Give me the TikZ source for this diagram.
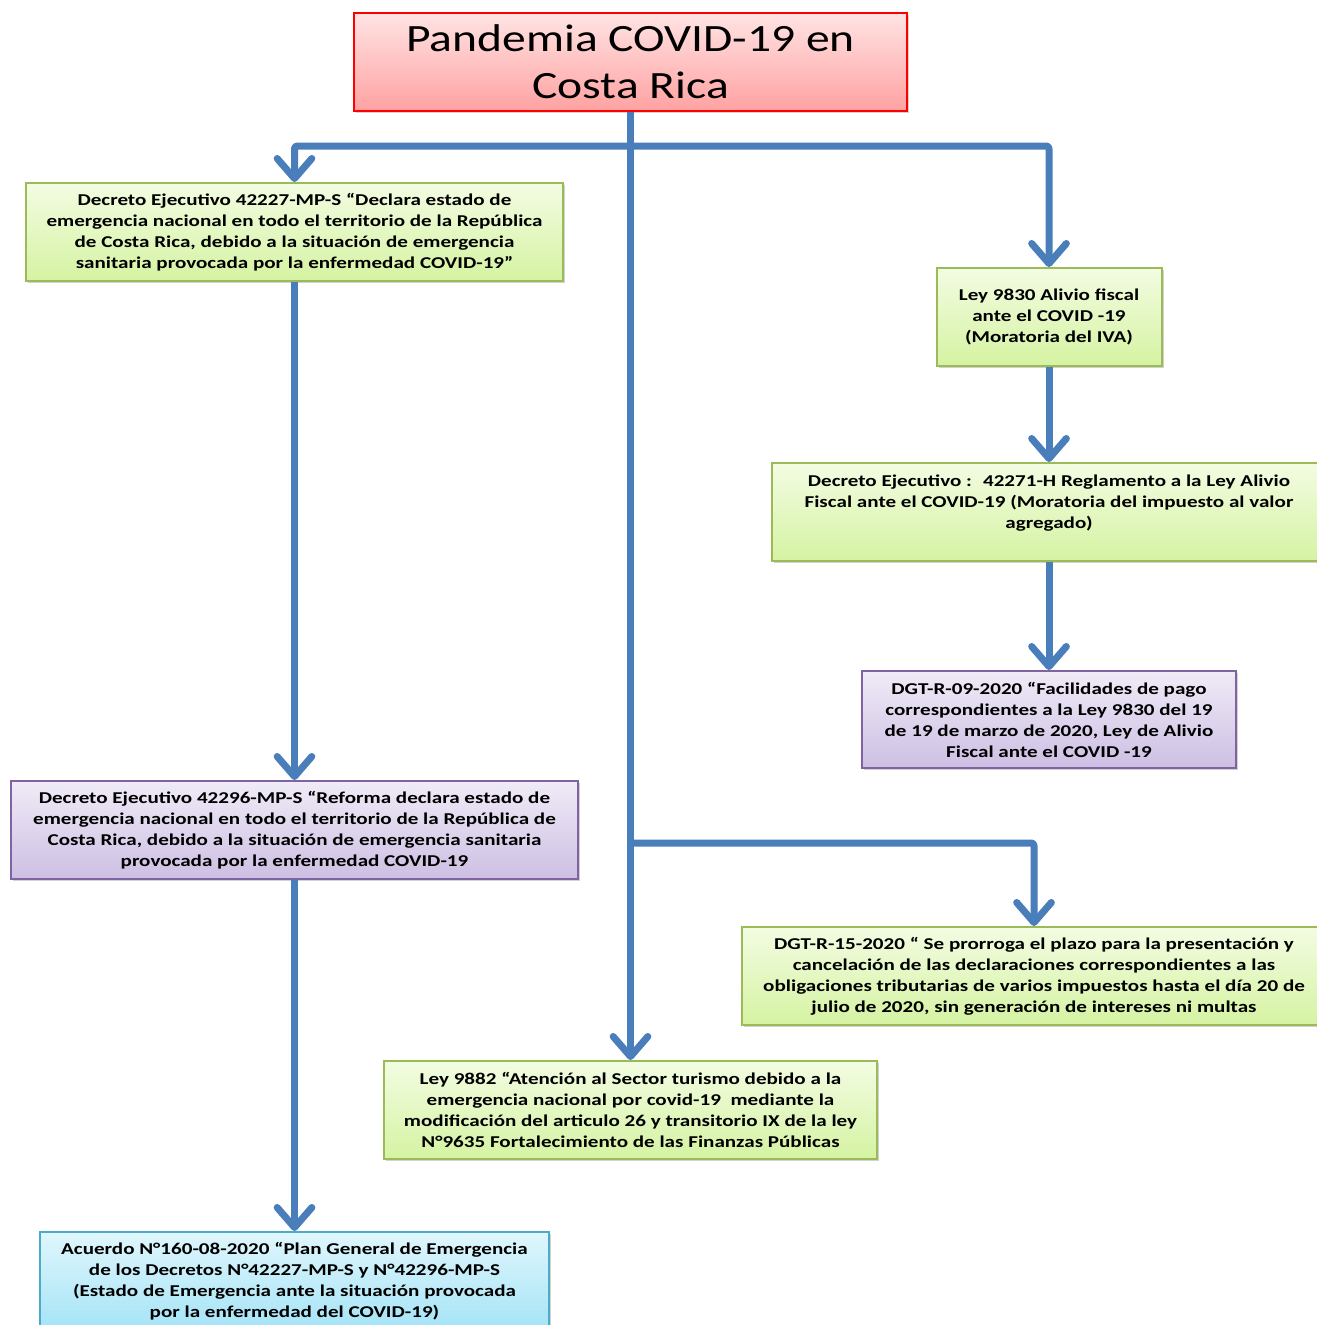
\documentclass[tikz,border=0pt]{standalone}
\usepackage{fontspec}
\setmainfont{Carlito}
\newfontfamily\bodyfont{Carlito}[FakeStretch=1.275]
\newfontfamily\titlefont{Carlito}[FakeStretch=1.23]
\usetikzlibrary{arrows.meta,shadows}
\definecolor{connblue}{HTML}{4A7EBB}
\definecolor{grborder}{HTML}{9BBB59}
\definecolor{grtop}{HTML}{F3FCE2}
\definecolor{grbot}{HTML}{D5F3A2}
\definecolor{puborder}{HTML}{8064A2}
\definecolor{putop}{HTML}{F0EBF7}
\definecolor{pubot}{HTML}{CDBFE3}
\definecolor{blborder}{HTML}{4BACC6}
\definecolor{bltop}{HTML}{E0F6FC}
\definecolor{blbot}{HTML}{A5E4F7}
\definecolor{rdtop}{HTML}{FFE4E4}
\definecolor{rdbot}{HTML}{FFA2A2}
\tikzset{
  basebox/.style={rectangle, line width=1.5pt, align=center, inner sep=0pt,
    font=\bodyfont\fontsize{12.4}{15.75}\selectfont\bfseries,
    drop shadow={opacity=0.35, shadow xshift=1.5pt, shadow yshift=-1.8pt}},
  greenbox/.style={basebox, draw=grborder, top color=grtop, bottom color=grbot},
  purplebox/.style={basebox, draw=puborder, top color=putop, bottom color=pubot},
  bluebox/.style={basebox, draw=blborder, top color=bltop, bottom color=blbot},
  titlebox/.style={rectangle, line width=1.5pt, align=center, inner sep=0pt,
    draw=red, top color=rdtop, bottom color=rdbot,
    font=\titlefont\fontsize{29}{35.25}\selectfont,
    drop shadow={opacity=0.35, shadow xshift=1.5pt, shadow yshift=-1.8pt}},
  conn/.style={draw=connblue, line width=5.25pt, rounded corners=2pt, line join=round,
    -{Straight Barb[length=15pt, width=26pt, line cap=round, line join=round]}},
}
\begin{document}
\begin{tikzpicture}[x=0.75pt, y=-0.75pt]
\useasboundingbox (0,0) rectangle (1317,1325);
\clip (0,0) rectangle (1317,1325);
\fill[white] (0,0) rectangle (1317,1325);

\node[titlebox, minimum width={553*0.75pt}, minimum height={98*0.75pt}] (title) at (630.5,61.5)
  {Pandemia COVID-19 en\\Costa Rica};

\node[greenbox, minimum width={537*0.75pt}, minimum height={98*0.75pt}] (b1) at (294.5,232)
  {Decreto Ejecutivo 42227-MP-S “Declara estado de\\
   emergencia nacional en todo el territorio de la República\\
   de Costa Rica, debido a la situación de emergencia\\
   sanitaria provocada por la enfermedad COVID-19”};

\node[greenbox, minimum width={225*0.75pt}, minimum height={98*0.75pt}] (ley9830) at (1049,317)
  {Ley 9830 Alivio fiscal\\ante el COVID -19\\(Moratoria del IVA)};

\node[greenbox, minimum width={554*0.75pt}, minimum height={98*0.75pt}] (d42271) at (1049,512)
  {Decreto Ejecutivo :~ 42271-H Reglamento a la Ley Alivio\\
   Fiscal ante el COVID-19 (Moratoria del impuesto al valor\\
   agregado)\\ \mbox{}};

\node[purplebox, minimum width={374*0.75pt}, minimum height={97*0.75pt}] (dgt09) at (1049,719.5)
  {DGT-R-09-2020 “Facilidades de pago\\
   correspondientes a la Ley 9830 del 19\\
   de 19 de marzo de 2020, Ley de Alivio\\
   Fiscal ante el COVID -19};

\node[purplebox, minimum width={567*0.75pt}, minimum height={98*0.75pt}] (b2) at (294.5,830)
  {Decreto Ejecutivo 42296-MP-S “Reforma declara estado de\\
   emergencia nacional en todo el territorio de la República de\\
   Costa Rica, debido a la situación de emergencia sanitaria\\
   provocada por la enfermedad COVID-19};

\node[greenbox, minimum width={584*0.75pt}, minimum height={98*0.75pt}] (dgt15) at (1034,976)
  {DGT-R-15-2020 “ Se prorroga el plazo para la presentación y\\
   cancelación de las declaraciones correspondientes a las\\
   obligaciones tributarias de varios impuestos hasta el día 20 de\\
   julio de 2020, sin generación de intereses ni multas};

\node[greenbox, minimum width={493*0.75pt}, minimum height={98*0.75pt}] (ley9882) at (630.5,1110)
  {Ley 9882 “Atención al Sector turismo debido a la\\
   emergencia nacional por covid-19~ mediante la\\
   modificación del articulo 26 y transitorio IX de la ley\\
   N°9635 Fortalecimiento de las Finanzas Públicas};

\node[bluebox, minimum width={509*0.75pt}, minimum height={98*0.75pt}] (acuerdo) at (294.5,1281)
  {Acuerdo N°160-08-2020 “Plan General de Emergencia\\
   de los Decretos N°42227-MP-S y N°42296-MP-S\\
   (Estado de Emergencia ante la situación provocada\\
   por la enfermedad del COVID-19)};

\coordinate (j1) at (630.5,146);
\coordinate (j2) at (630.5,843);

\draw[conn] (title.south) -- (ley9882.north);
\draw[conn] (j1) -| (b1.north);
\draw[conn] (j1) -| (ley9830.north);
\draw[conn] (b1.south) -- (b2.north);
\draw[conn] (b2.south) -- (acuerdo.north);
\draw[conn] (ley9830.south) -- (d42271.north);
\draw[conn] (d42271.south) -- (dgt09.north);
\draw[conn] (j2) -| (dgt15.north);
\end{tikzpicture}
\end{document}
